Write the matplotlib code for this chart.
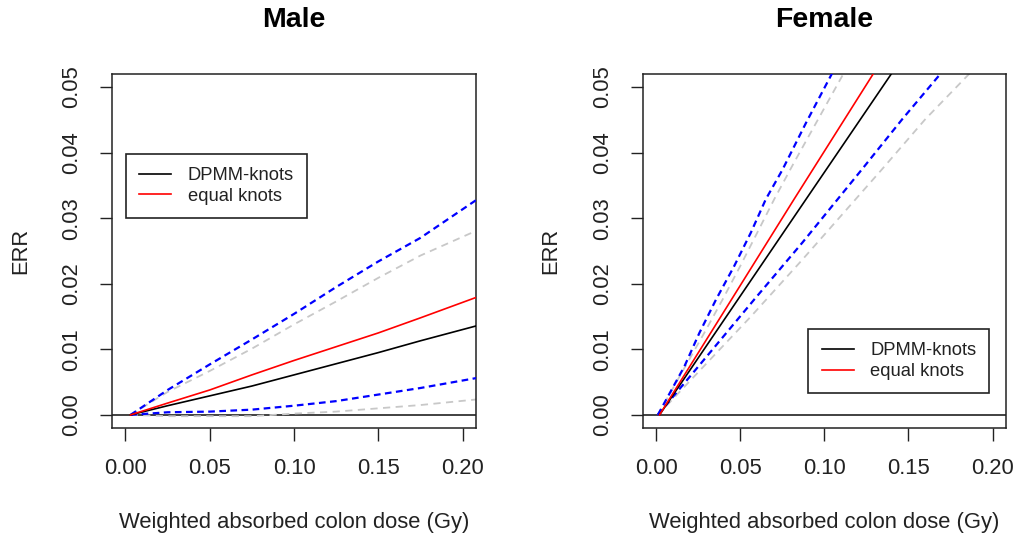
import matplotlib
matplotlib.use("Agg")
import matplotlib.pyplot as plt

plt.rcParams['font.family'] = ['Liberation Sans', 'DejaVu Sans']

# ---------------- data ----------------
titles = ["Male", "Female"]
legend_labels = ["DPMM-knots", "equal knots"]
x_ticks = [0.00, 0.05, 0.10, 0.15, 0.20]
y_ticks = [0.00, 0.01, 0.02, 0.03, 0.04, 0.05]
x_label = "Weighted absorbed colon dose (Gy)"
y_label = "ERR"

# Male: common dose grid
male_dose = [0.003, 0.025, 0.05, 0.075, 0.10, 0.125, 0.15, 0.175, 0.21]
male_dpmm = [0.0, 0.0014, 0.0029, 0.0044, 0.0061, 0.0078, 0.0095, 0.0113, 0.0137]
male_equal = [0.0, 0.0018, 0.0038, 0.0061, 0.0083, 0.0104, 0.0125, 0.0148, 0.0181]
male_dpmm_lo = [0.0, 0.0004, 0.0005, 0.0008, 0.0014, 0.0021, 0.0031, 0.0041, 0.0057]
male_dpmm_hi = [0.0, 0.0038, 0.0077, 0.0115, 0.0154, 0.0195, 0.0234, 0.0270, 0.0331]
male_equal_lo = [0.0, -0.0002, -0.0002, -0.0002, 0.0002, 0.0005, 0.0010, 0.0015, 0.0024]
male_equal_hi = [0.0, 0.0035, 0.0067, 0.0101, 0.0138, 0.0173, 0.0209, 0.0243, 0.0283]

# Female: (dose, ERR) points per curve
female_dpmm_dose = [0.002, 0.0870, 0.1403, 0.1456]
female_dpmm_err = [0.0, 0.0321, 0.0522, 0.0542]
female_equal_dose = [0.002, 0.0820, 0.1295, 0.1345]
female_equal_err = [0.0, 0.0329, 0.0522, 0.0542]
female_dpmm_hi_dose = [0.001, 0.0168, 0.0257, 0.0356, 0.0464, 0.0563, 0.0652, 0.0751, 0.0890, 0.1048, 0.1088]
female_dpmm_hi_err = [0.0, 0.0074, 0.0125, 0.0176, 0.0227, 0.0278, 0.0329, 0.0374, 0.0445, 0.0522, 0.0542]
female_equal_hi_dose = [0.001, 0.0286, 0.0395, 0.0500, 0.0702, 0.0820, 0.1117, 0.1160]
female_equal_hi_err = [0.0, 0.0125, 0.0176, 0.0227, 0.0329, 0.0385, 0.0522, 0.0542]
female_dpmm_lo_dose = [0.001, 0.0336, 0.0583, 0.0870, 0.1225, 0.1463, 0.1696, 0.1760]
female_dpmm_lo_err = [0.0, 0.0100, 0.0176, 0.0263, 0.0375, 0.0451, 0.0522, 0.0542]
female_equal_lo_dose = [0.001, 0.0563, 0.0870, 0.1344, 0.1600, 0.1868, 0.1940]
female_equal_lo_err = [0.0, 0.0150, 0.0237, 0.0375, 0.0451, 0.0522, 0.0542]

# ---------------- figure ----------------
W, H = 1014, 538
fig = plt.figure(figsize=(W / 100, H / 100), dpi=100)

def px_axes(x0, y0, x1, y1):
    return fig.add_axes([x0 / W, 1 - y1 / H, (x1 - x0) / W, (y1 - y0) / H])

axL = px_axes(112, 74, 476, 428)
axR = px_axes(642.7, 74, 1006, 428)

BLUE = "#0000ff"
GRAY = "#c8c8c8"
blue_ls = (0, (3.0, 2.0))
gray_ls = (0, (4.0, 3.0))

def style(ax, title):
    ax.set_xlim(-0.008, 0.208)
    ax.set_ylim(-0.002, 0.052)
    ax.set_xticks(x_ticks)
    ax.set_xticklabels([f"{v:.2f}" for v in x_ticks])
    ax.set_yticks(y_ticks)
    ax.set_yticklabels([f"{v:.2f}" for v in y_ticks])
    ax.tick_params(axis='both', direction='out', length=9, width=1,
                   labelsize=15.8, pad=12.5, color='#222222', labelcolor='#222222')
    ax.tick_params(axis='y', labelrotation=90)
    for lab in ax.get_yticklabels():
        lab.set_va('center')
    for s in ax.spines.values():
        s.set_linewidth(1.1)
        s.set_color('#222222')
    ax.axhline(0, color='#333333', lw=1.3, zorder=1)
    ax.set_title(title, fontsize=20.5, fontweight='bold', y=1.153, pad=0, va='center')
    ax.set_xlabel(x_label, fontsize=15.8, color='#222222')
    ax.xaxis.set_label_coords(0.5, -0.268)
    ax.xaxis.label.set_va('center')
    ax.set_ylabel(y_label, fontsize=15.8, color='#222222')
    ax.yaxis.set_label_coords(-0.252, 0.5)
    ax.yaxis.label.set_va('center')

# Male panel
axL.plot(male_dose, male_equal_hi, color=GRAY, lw=1.3, ls=gray_ls, zorder=2)
axL.plot(male_dose, male_equal_lo, color=GRAY, lw=1.3, ls=gray_ls, zorder=2)
axL.plot(male_dose, male_dpmm_hi, color=BLUE, lw=1.6, ls=blue_ls, zorder=3)
axL.plot(male_dose, male_dpmm_lo, color=BLUE, lw=1.6, ls=blue_ls, zorder=3)
hL1, = axL.plot(male_dose, male_dpmm, color='black', lw=1.2, zorder=4)
hL2, = axL.plot(male_dose, male_equal, color='#ff0000', lw=1.2, zorder=4)
style(axL, titles[0])

# Female panel
axR.plot(female_equal_hi_dose, female_equal_hi_err, color=GRAY, lw=1.3, ls=gray_ls, zorder=2)
axR.plot(female_equal_lo_dose, female_equal_lo_err, color=GRAY, lw=1.3, ls=gray_ls, zorder=2)
axR.plot(female_dpmm_hi_dose, female_dpmm_hi_err, color=BLUE, lw=1.6, ls=blue_ls, zorder=3)
axR.plot(female_dpmm_lo_dose, female_dpmm_lo_err, color=BLUE, lw=1.6, ls=blue_ls, zorder=3)
hR1, = axR.plot(female_dpmm_dose, female_dpmm_err, color='black', lw=1.2, zorder=4)
hR2, = axR.plot(female_equal_dose, female_equal_err, color='#ff0000', lw=1.2, zorder=4)
style(axR, titles[1])

leg_kw = dict(fontsize=13.2, frameon=True, fancybox=False, borderaxespad=0,
              handlelength=1.75, handletextpad=0.9, labelspacing=0.2,
              borderpad=0.72, labelcolor='#222222')
legL = axL.legend([hL1, hL2], legend_labels, loc='upper left',
                  bbox_to_anchor=(0.0385, 0.774), **leg_kw)
legR = axR.legend([hR1, hR2], legend_labels, loc='lower left',
                  bbox_to_anchor=(0.456, 0.098), **leg_kw)
for leg in (legL, legR):
    fr = leg.get_frame()
    fr.set_edgecolor('#222222')
    fr.set_linewidth(1.2)
    fr.set_alpha(1)

fig.savefig("out.png", dpi=100)
